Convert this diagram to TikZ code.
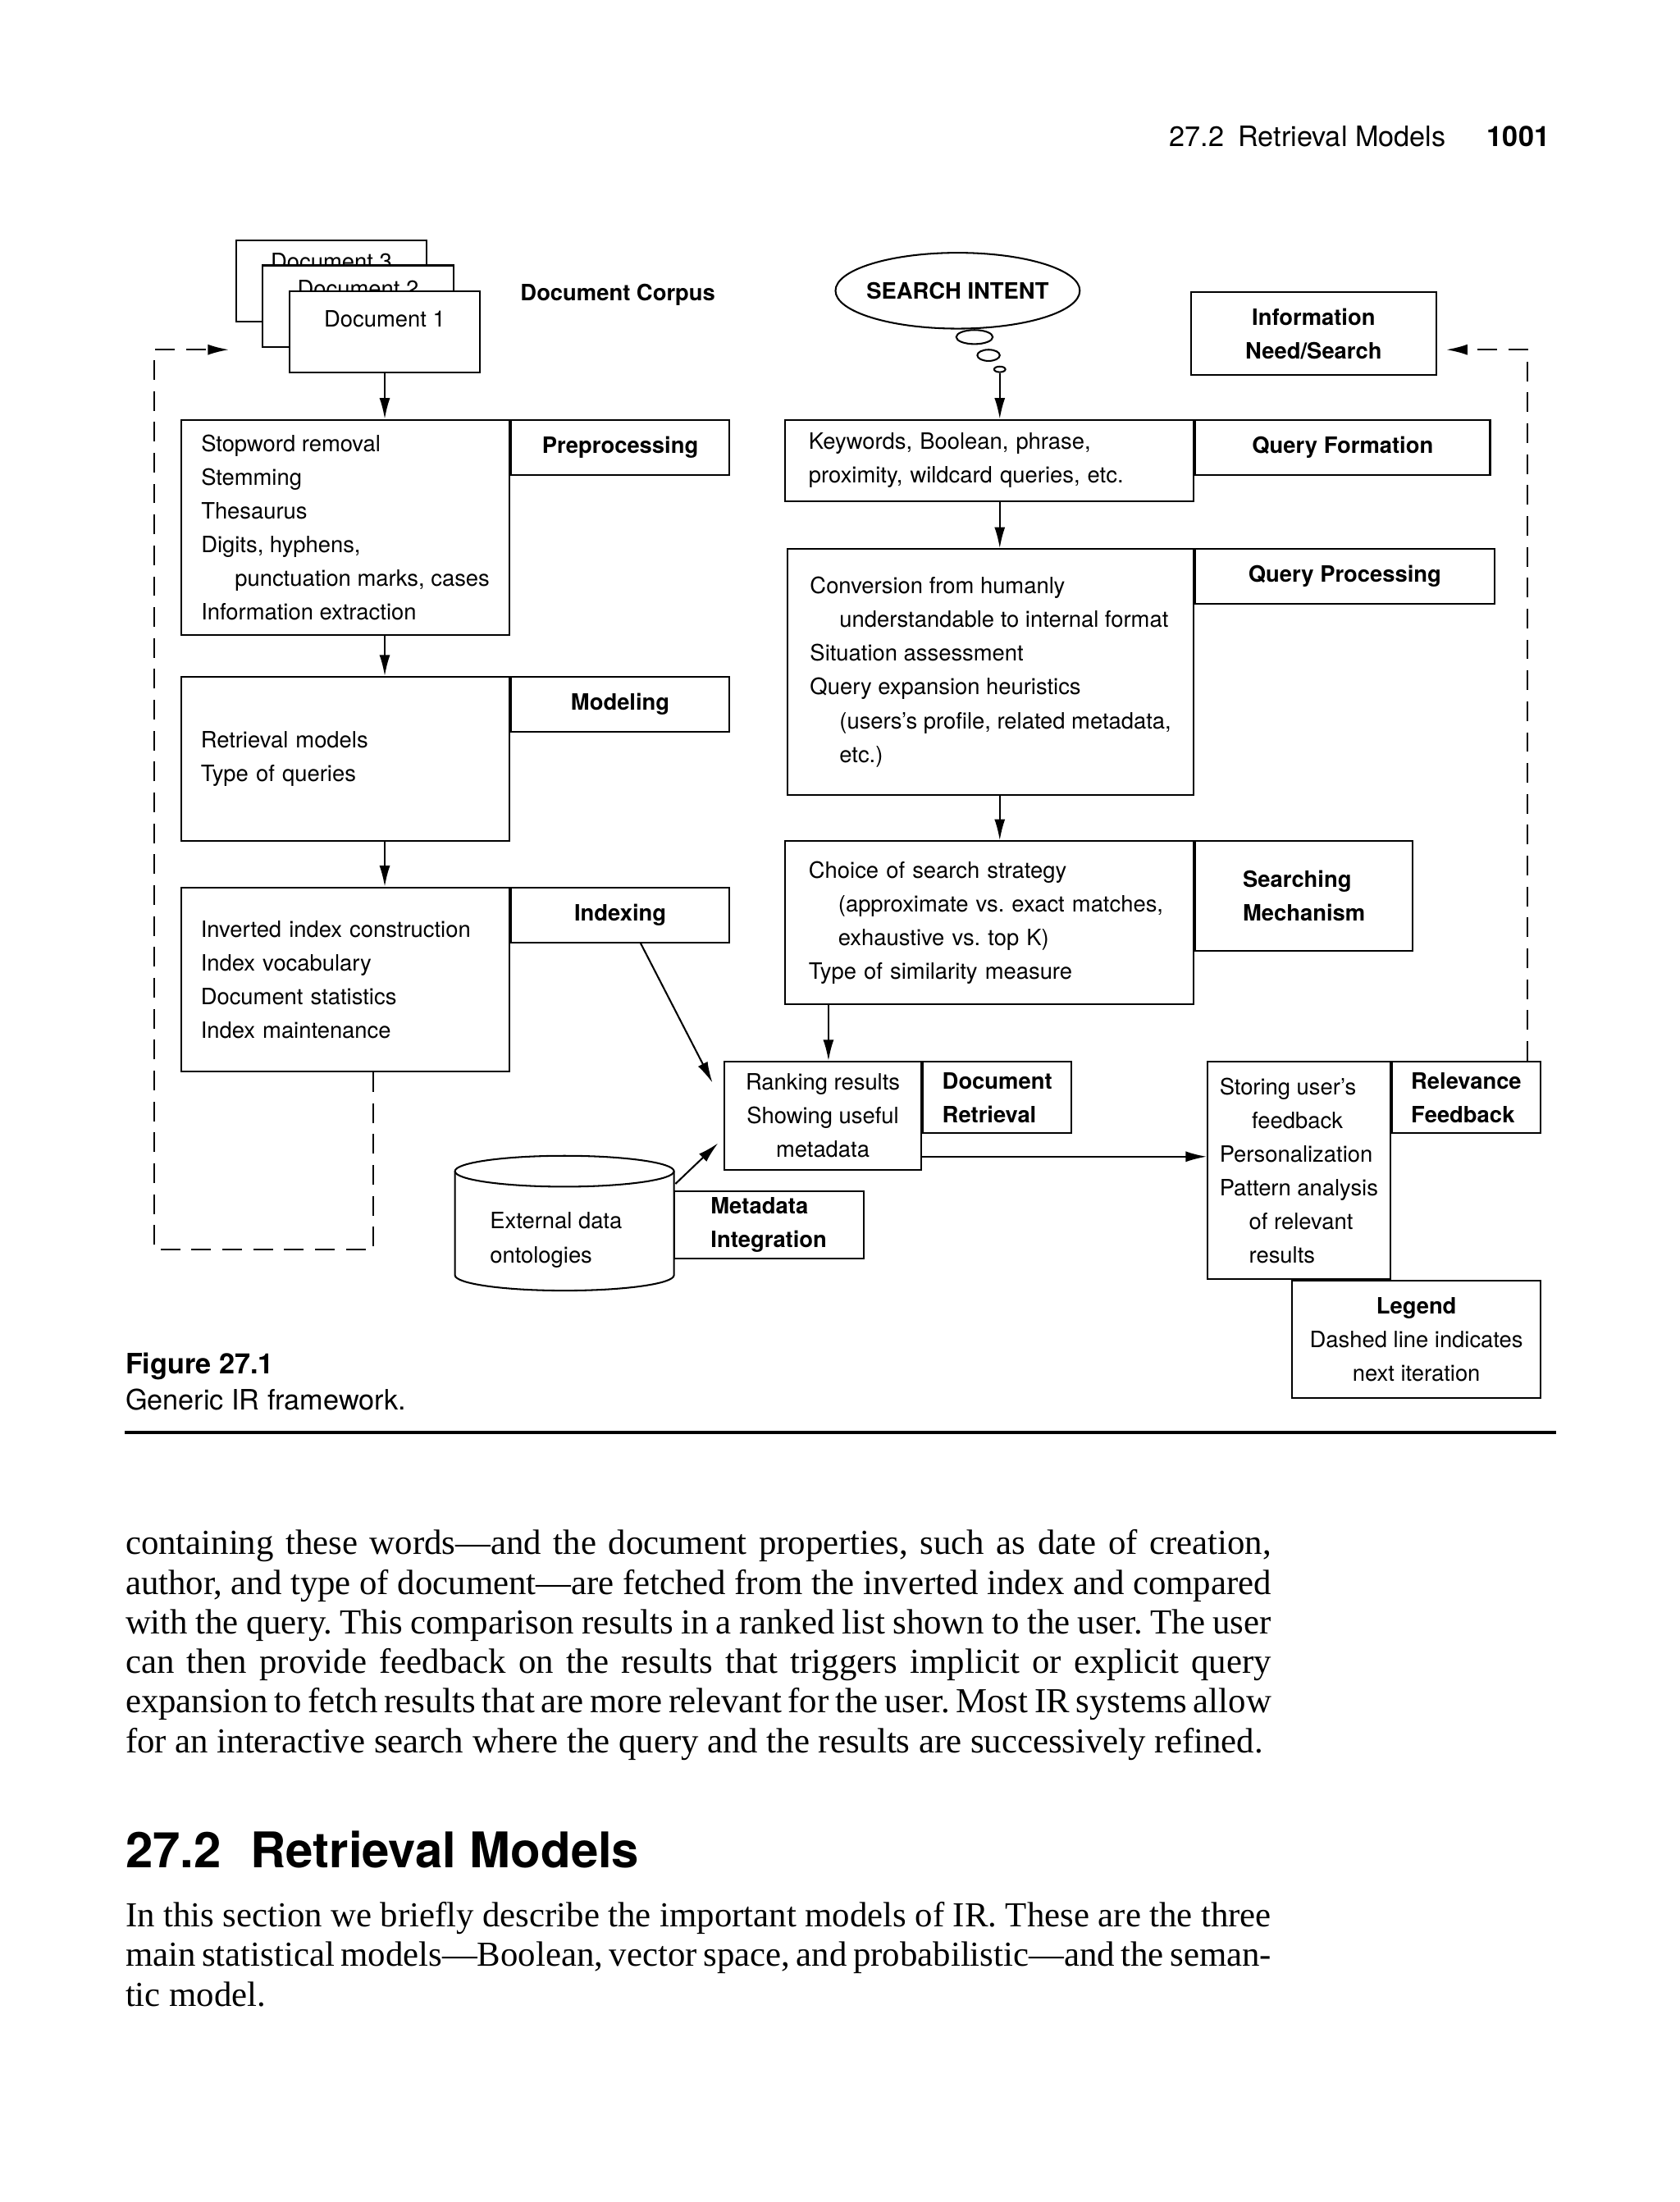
\documentclass[tikz,border=0pt]{standalone}
\usepackage{fontspec}
\setmainfont{Liberation Serif}
\setsansfont{TeX Gyre Heros}
\usetikzlibrary{shapes,arrows.meta,positioning,calc}

\begin{document}
\begin{tikzpicture}[x=0.5pt, y=-0.5pt, auto,
    every node/.style={font=\sffamily\fontsize{8}{12}\selectfont},
    block_doc/.style ={rectangle, draw=black, line width=0.6pt, fill=white,
      minimum width=68pt, minimum height=29pt, inner sep=0pt, text height=6pt},
    block_content/.style ={rectangle, draw=black, line width=0.6pt, fill=white,
      align=left, inner xsep=7pt, inner ysep=0pt},
    block_label/.style ={rectangle, draw=black, line width=0.6pt, fill=white,
      font=\sffamily\bfseries\fontsize{8}{12}\selectfont, align=left, inner sep=0pt},
    block_noborder/.style ={rectangle, draw=none, inner sep=0pt},
    bubble/.style ={ellipse, draw=black, line width=0.6pt, inner sep=0pt},
    line/.style ={draw, line width=0.6pt, -{Latex[length=7.5pt, width=3.8pt]}},
    line_dashed/.style ={line, dash pattern=on 7pt off 4pt}]
    \fill[white] (0,0) rectangle (1196,1568);
    \useasboundingbox (0,0) rectangle (1196,1568);
    % running head
    \node[block_noborder, anchor=base east, font=\sffamily\fontsize{10}{12}\selectfont] (running_head) at (1030,104) {27.2\hspace{0.5em}Retrieval Models};
    \node[block_noborder, anchor=base east, font=\sffamily\bfseries\fontsize{10}{12}\selectfont] (page_num) at (1104,104) {1001};
    % document corpus
    \node[block_doc, text depth=14pt] (doc_three) at (236,200) {Document 3};
    \node[block_doc, text depth=13pt] (doc_two) at (255,218) {Document 2};
    \node[block_doc, text depth=9.5pt] (doc_one) at (274,236.5) {Document 1};
    \node[block_noborder, font=\sffamily\bfseries\fontsize{8}{12}\selectfont] (corpus) at (440,210) {Document Corpus};
    % search intent and thought bubbles
    \node[bubble, minimum width=87pt, minimum height=27pt, font=\sffamily\bfseries\fontsize{8}{12}\selectfont] (intent) at (682,207) {\makebox[0pt]{SEARCH INTENT}};
    \node[bubble, minimum width=13pt, minimum height=5pt] (bubble_one) at (694,240) {};
    \node[bubble, minimum width=8pt, minimum height=4pt] (bubble_two) at (704,253) {};
    \node[bubble, minimum width=4pt, minimum height=2pt] (bubble_three) at (712,263) {};
    \node[block_label, align=center, minimum width=87.5pt, minimum height=29.5pt] (info_need) at (935.5,237.5) {Information\\Need/Search};
    % left column: preprocessing, modeling, indexing
    \node[block_content, minimum width=117pt, minimum height=76.5pt] (preproc) at (246,375.5) {
      Stopword removal\\
      Stemming\\
      Thesaurus\\
      Digits, hyphens,\\
      \hspace*{12pt}punctuation marks, cases\\
      Information extraction};
    \node[block_label, align=center, minimum width=77.5pt, minimum height=19.5pt, below right=0pt of preproc.north east] (preproc_lbl) {Preprocessing};
    \node[block_content, text width=103pt, minimum height=58.5pt] (modeling) at (246,540.5) {
      Retrieval models\\
      Type of queries};
    \node[block_label, align=center, minimum width=77.5pt, minimum height=19.5pt, below right=0pt of modeling.north east] (modeling_lbl) {Modeling};
    \node[block_content, text width=103pt, minimum height=65.5pt] (indexing) at (246,697.5) {
      Inverted index construction\\
      Index vocabulary\\
      Document statistics\\
      Index maintenance};
    \node[block_label, align=center, minimum width=77.5pt, minimum height=19.5pt, below right=0pt of indexing.north east] (indexing_lbl) {Indexing};
    % middle column: query formation, processing, searching
    \node[block_content, inner xsep=8.5pt, text width=128.5pt, minimum height=29pt] (qform) at (704.5,328) {
      Keywords, Boolean, phrase,\\
      proximity, wildcard queries, etc.};
    \node[block_label, align=center, minimum width=105pt, minimum height=19.5pt, below right=0pt of qform.north east] (qform_lbl) {Query Formation};
    \node[block_content, minimum width=144.5pt, minimum height=87.5pt] (qproc) at (705.5,478.5) {
      Conversion from humanly\\
      \hspace*{10.5pt}understandable to internal format\\
      Situation assessment\\
      Query expansion heuristics\\
      \hspace*{10.5pt}(users’s profile, related metadata,\\
      \hspace*{10.5pt}etc.)};
    \node[block_label, align=center, minimum width=106.5pt, minimum height=19.5pt, below right=0pt of qproc.north east] (qproc_lbl) {Query Processing};
    \node[block_content, inner xsep=8.5pt, text width=128.5pt, minimum height=58pt] (search) at (704.5,657) {
      Choice of search strategy\\
      \hspace*{10.5pt}(approximate vs.\ exact matches,\\
      \hspace*{10.5pt}exhaustive vs.\ top K)\\
      Type of similarity measure};
    \node[block_label, minimum width=77.5pt, minimum height=39pt, below right=0pt of search.north east] (search_lbl) {Searching\\Mechanism};
    % document retrieval and metadata
    \node[block_content, align=center, inner xsep=0pt, minimum width=70pt, minimum height=38.5pt] (ranking) at (586,794.5) {
      Ranking results\\
      Showing useful\\
      metadata};
    \node[block_label, minimum width=53pt, minimum height=25.5pt, below right=0pt of ranking.north east] (ranking_lbl) {Document\\Retrieval};
    \draw[line width=0.6pt, fill=white] (324,834) -- (324,908) arc[start angle=180, end angle=360, x radius=39pt, y radius=5.5pt] -- (480,834);
    \draw[line width=0.6pt] (402,834) ellipse [x radius=39pt, y radius=5.5pt];
    \coordinate (cyl_top) at (481,843);
    \node[block_noborder, align=left] (ext_data) at (396,883) {External data\\ontologies};
    \node[block_label, minimum width=67.5pt, minimum height=24pt] (meta_lbl) at (547.5,872) {Metadata\\Integration};
    % relevance feedback and legend
    \node[block_content, inner xsep=3pt, minimum width=65pt, minimum height=77.5pt] (relev) at (925,833.5) {
      Storing user’s\\
      \hspace*{11.5pt}feedback\\
      Personalization\\
      Pattern analysis\\
      \hspace*{10.5pt}of relevant\\
      \hspace*{10.5pt}results};
    \node[block_label, minimum width=53pt, minimum height=25.5pt, below right=0pt of relev.north east] (relev_lbl) {Relevance\\Feedback};
    \coordinate (legend_corner) at (relev.south -| relev_lbl.east);
    \node[block_content, align=center, inner xsep=0pt, minimum width=88.5pt, minimum height=41.5pt, below left=0pt of legend_corner] (legend) {
      \textbf{Legend}\\
      Dashed line indicates\\
      next iteration};
    % connecting nodes with paths
    \coordinate (loop_left_corner) at (110,890);
    \coordinate (loop_left_end) at (163,249);
    \coordinate (loop_right_end) at (1030,249);
    \coordinate (rank_in) at ([xshift=2pt]ranking.north);
    \begin{scope}[every path/.style=line]
      \path (doc_one.south) -- (preproc.north -| doc_one.south);
      \path (preproc.south -| doc_one.south) -- (modeling.north -| doc_one.south);
      \path (modeling.south -| doc_one.south) -- (indexing.north -| doc_one.south);
      \path (bubble_three.south) -- (qform.north -| bubble_three.south);
      \path (qform.south -| bubble_three.south) -- (qproc.north -| bubble_three.south);
      \path (qproc.south -| bubble_three.south) -- (search.north -| bubble_three.south);
      \path (search.south -| rank_in) -- (rank_in);
      \path ([xshift=7.25pt]indexing_lbl.south) -- ([xshift=-4pt, yshift=11.75pt]ranking.west);
      \path (cyl_top) -- ([xshift=-2pt, yshift=-9.75pt]ranking.west);
      \path ([yshift=5pt]ranking.south east) -- ([yshift=5pt]ranking.south east -| relev.west);
    \end{scope}
    \path[line_dashed] ([xshift=10pt]indexing.south) |- (loop_left_corner) |- (loop_left_end);
    \path[line_dashed] ([xshift=-5pt]relev_lbl.north east) |- (loop_right_end);
    % caption and rule
    \node[block_noborder, anchor=base west, font=\sffamily\bfseries\fontsize{10}{12}\selectfont] (fig_num) at (89,978) {Figure 27.1};
    \node[block_noborder, anchor=base west, font=\sffamily\fontsize{10}{12}\selectfont] (fig_caption) at (89,1004) {Generic IR framework.};
    \draw[line width=1pt] (89,1020) -- (1108,1020);
    % body text
    \node[block_noborder, anchor=base west, text width=408pt, align=justify, font=\rmfamily\fontsize{12.5}{14.1}\selectfont\frenchspacing] (para_one) at (89,1107) {containing these words—and the document properties, such as date of creation,\linebreak
      author, and type of document—are fetched from the inverted index and compared\linebreak
      with the query. This comparison results in a ranked list shown to the user. The user\linebreak
      can then provide feedback on the results that triggers implicit or explicit query\linebreak
      expansion to fetch results that are more relevant for the user. Most IR systems allow\linebreak
      for an interactive search where the query and the results are successively refined.};
    \node[block_noborder, anchor=base west, font=\sffamily\bfseries\fontsize{17.5}{20}\selectfont] (section_head) at (89,1330) {27.2\hspace{0.6em}Retrieval Models};
    \node[block_noborder, anchor=base west, text width=408pt, align=justify, font=\rmfamily\fontsize{12.5}{14.1}\selectfont\frenchspacing] (para_two) at (89,1372) {In this section we briefly describe the important models of IR. These are the three\linebreak
      main statistical models—Boolean, vector space, and probabilistic—and the seman-\linebreak
      tic model.};
\end{tikzpicture}
\end{document}
